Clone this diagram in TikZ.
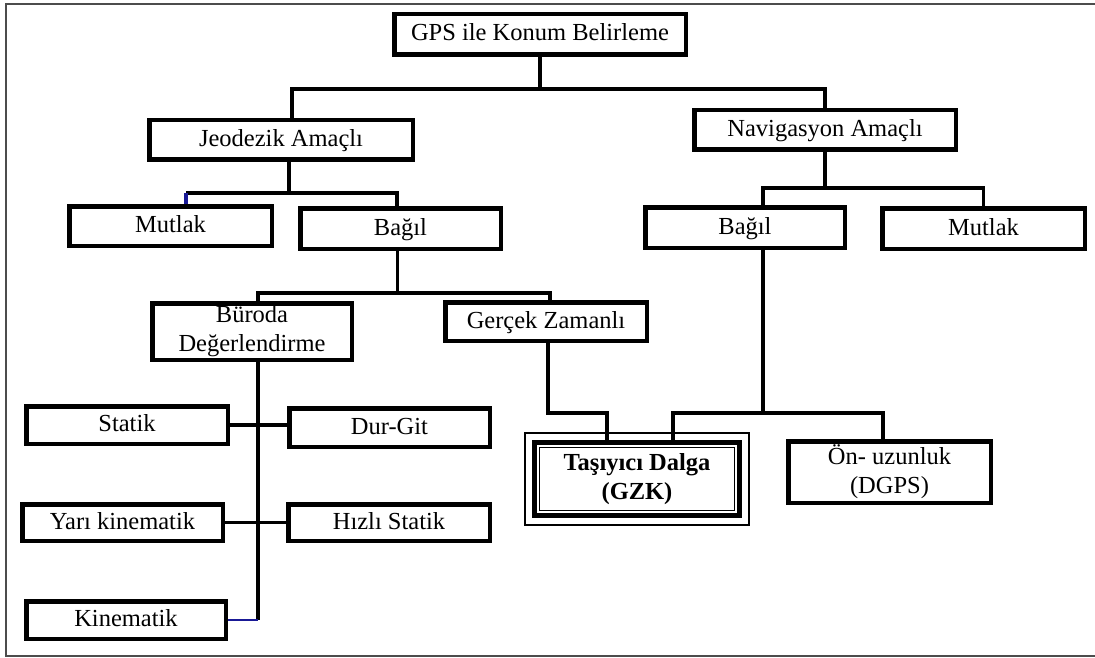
\documentclass[tikz,border=0pt]{standalone}
\usepackage{fontspec}
\setmainfont{Liberation Serif}
\definecolor{lacivert}{RGB}{25,25,150}
\newcommand{\metin}{\fontsize{24.5}{29}\selectfont}
\newcommand{\dikme}{\rule[-6pt]{0pt}{25pt}}

\begin{document}
\begin{tikzpicture}[x=1pt,y=-1pt,
      kutu/.style 2 args={draw,line width=4.5pt,inner sep=0pt,align=center,font=\metin,
        minimum width={#1pt-4.5pt},minimum height={#2pt-4.5pt},
        execute at begin node=\dikme,execute at end node=\dikme},
      bag/.style={line width=3.5pt},
      ince/.style={line width=1.5pt},
      mavi/.style={draw=lacivert}]
      \useasboundingbox (0,0) rectangle (1095,658);
      \draw[gray!60!black,line width=2pt] (1095,4) -- (6,4) -- (6,656) -- (1095,656);
      \node[kutu={296}{45}] (gps) at (540,34.5) {GPS ile Konum Belirleme};
      \node[kutu={268}{44}] (jeo) at (281,140) {Jeodezik Amaçlı};
      \node[kutu={266}{44}] (nav) at (825,130) {Navigasyon Amaçlı};
      \node[kutu={207}{44}] (mutlakJ) at (170.5,226) {Mutlak};
      \node[kutu={205}{45}] (bagilJ) at (400.5,228.5) {Bağıl};
      \node[kutu={204}{45}] (bagilN) at (745,227.5) {Bağıl};
      \node[kutu={207}{45}] (mutlakN) at (983.5,228.5) {Mutlak};
      \node[kutu={204}{61}] (buro) at (252,331.5) {Büroda\\Değerlendirme};
      \node[kutu={206}{43}] (gercek) at (546,321.5) {Gerçek Zamanlı};
      \node[kutu={206}{42}] (statik) at (127,425) {Statik};
      \node[kutu={205}{43}] (durgit) at (389.5,427.5) {Dur-Git};
      \node[kutu={205}{41}] (yari) at (122.5,522.5) {Yarı kinematik};
      \node[kutu={206}{41}] (hizli) at (389,522.5) {Hızlı Statik};
      \node[kutu={204}{42}] (kinem) at (126,620) {Kinematik};
      \node[kutu={207}{66}] (onuz) at (889.5,472) {Ön- uzunluk\\(DGPS)};
      \node[kutu={210}{78},line width=5pt,minimum width=205pt,minimum height=73pt,
        font=\metin\bfseries] (gzk) at (637,479) {Taşıyıcı Dalga\\(GZK)};
      \draw[ince] ([xshift=-7pt,yshift=7pt]gzk.north west) rectangle ([xshift=7pt,yshift=-7pt]gzk.south east);
      \draw[ince] ([xshift=7.5pt,yshift=-7.5pt]gzk.north west) rectangle ([xshift=-7.5pt,yshift=7.5pt]gzk.south east);
      \draw[bag] (gps.south) -- (gps.south |- 0,89) coordinate (g1);
      \draw[bag] ([xshift=11pt]jeo.north) |- (g1) -| (nav.north);
      \draw[bag] ([xshift=8pt]jeo.south) -- ++(0,31) coordinate (j1);
      \coordinate (mk) at ([xshift=15.5pt]mutlakJ.north);
      \draw[bag] (mk |- j1) -| ([xshift=-3.5pt]bagilJ.north);
      \draw[bag,mavi] (mk |- j1) -- (mk);
      \draw[bag] (nav.south) -- (nav.south |- 0,188) coordinate (n1);
      \draw[bag] ([xshift=18pt]bagilN.north) |- (n1) -| (mutlakN.north);
      \draw[bag] ([xshift=-3pt]bagilJ.south) -- ++(0,42) coordinate (b1);
      \draw[bag] ([xshift=6pt]buro.north) |- (b1) -| ([xshift=4pt]gercek.north);
      \draw[bag] ([xshift=2pt]gercek.south) -- ++(0,70) -| ([xshift=-30pt]gzk.north);
      \draw[bag] ([xshift=18pt]bagilN.south) -- ++(0,163) coordinate (n2);
      \draw[bag] ([xshift=36pt]gzk.north) |- (n2) -| ([xshift=-6.5pt]onuz.north);
      \draw[bag] ([xshift=6pt]buro.south) -- ([xshift=6pt]buro.south |- kinem.east) coordinate (k1);
      \draw[bag] (statik.east) -- (statik.east -| durgit.west);
      \draw[bag] (yari.east) -- (yari.east -| hizli.west);
      \draw[ince,mavi,line width=2.5pt] (kinem.east) -- (k1);
     \end{tikzpicture}
\end{document}
